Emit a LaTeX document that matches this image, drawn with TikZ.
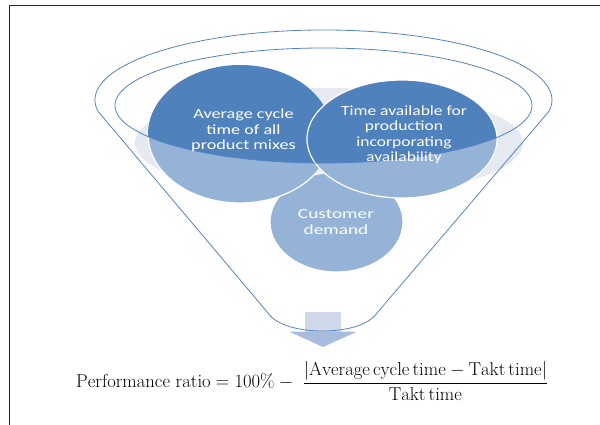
\documentclass[tikz,border=0pt]{standalone}
\usepackage{amsmath}
\usepackage{graphicx}
\usepackage{fontspec}
\newfontfamily\calib{Carlito}
\definecolor{dk}{RGB}{79,129,189}
\definecolor{lt}{RGB}{149,179,215}
\definecolor{band}{RGB}{228,233,242}
\definecolor{fun}{RGB}{84,131,196}
\definecolor{arrbody}{RGB}{207,217,234}
\definecolor{arrhead}{RGB}{168,188,222}
\definecolor{frame}{RGB}{40,40,40}
\newcommand\stretchtxt[2]{\scalebox{#1}[1]{\begin{tabular}{@{}c@{}}#2\end{tabular}}}
\tikzset{
  funnelline/.style={draw=fun, line width=0.8pt},
  bubbletext/.style={text=white, inner sep=0pt, font=\calib\fontsize{14}{15.5}\selectfont},
  bubbleedge/.style={draw=white, line width=1.2pt}
}
\begin{document}
\begin{tikzpicture}[x=1pt,y=-1pt]
\useasboundingbox (0,0) rectangle (600,425);
% frame
\draw[frame, line width=1.2pt] (600,5.7) -- (9.6,5.7) -- (9.6,425);
% pale band behind the circles
\fill[band] (329,143) ellipse[x radius=194pt, y radius=55pt];
% circles, light everywhere
\fill[lt] (336.5,222) ellipse[x radius=66.5pt, y radius=50pt];
\draw[bubbleedge] (336.5,222) ellipse[x radius=66.5pt, y radius=50pt];
\fill[lt] (240,134) ellipse[x radius=92pt, y radius=69pt];
\draw[bubbleedge] (240,134) ellipse[x radius=92pt, y radius=69pt];
\fill[lt] (402,139) ellipse[x radius=95pt, y radius=59pt];
\draw[bubbleedge] (402,139) ellipse[x radius=95pt, y radius=59pt];
% dark inside the funnel mouth
\begin{scope}
\clip (323.5,105.5) ellipse[x radius=208.5pt, y radius=57.5pt];
\fill[dk] (240,134) ellipse[x radius=92pt, y radius=69pt];
\fill[dk] (402,139) ellipse[x radius=95pt, y radius=59pt];
\draw[bubbleedge] (402,139) ellipse[x radius=95pt, y radius=59pt];
\end{scope}
% arrow
\fill[arrbody] (304.5,312) rectangle (340.6,331.6);
\fill[arrhead] (289,331.6) -- (357,331.6) -- (323,347) -- cycle;
% funnel outline
\draw[funnelline] (98,111.3) arc[start angle=189.3, end angle=-9.3, x radius=228.5pt, y radius=70pt]
  -- (377,313) .. controls (368,326) and (344,331) .. (322.5,331)
  .. controls (301,331) and (277,326) .. (268,313) -- cycle;
\draw[funnelline] (323.5,105.5) ellipse[x radius=208.5pt, y radius=57.5pt];
% texts
\node[bubbletext] (avg) at (243.5,131) {\stretchtxt{1.3}{Average cycle\\time of all\\product mixes}};
\node[bubbletext] (avail) at (404,135.5) {\stretchtxt{1.25}{Time available for\\production\\incorporating\\availability}};
\node[bubbletext] (cust) at (336,223.5) {\stretchtxt{1.38}{Customer\\demand}};
\node[anchor=west, inner sep=0pt] (formula) at (76,381) {\scalebox{1.08}{\fontsize{17.28}{20}\selectfont
  $\mathrm{Performance\ ratio} = 100\% - \;\dfrac{|\mathrm{Average\,cycle\,time} - \mathrm{Takt\,time}|}{\mathrm{Takt\,time}}$}};
\end{tikzpicture}
\end{document}
